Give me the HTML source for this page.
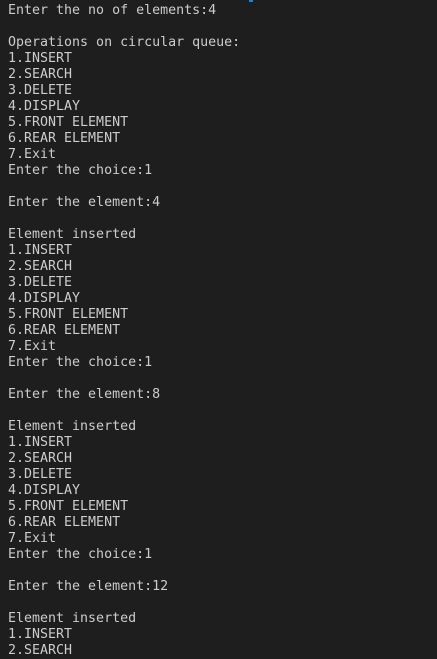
<!DOCTYPE html>
<html><head><style>
html,body{margin:0;padding:0;background:#1e1e1e;width:437px;height:659px;overflow:hidden}
pre{margin:0;position:absolute;left:8px;top:3px;font-family:"DejaVu Sans Mono","Liberation Mono",monospace;font-size:13.3px;line-height:16px;color:#cccccc}
.m{position:absolute;left:249px;top:0;width:4px;height:2px;background:#1a85d6}
</style></head><body>
<div class="m"></div>
<pre>Enter the no of elements:4

Operations on circular queue:
1.INSERT
2.SEARCH
3.DELETE
4.DISPLAY
5.FRONT ELEMENT
6.REAR ELEMENT
7.Exit
Enter the choice:1

Enter the element:4

Element inserted
1.INSERT
2.SEARCH
3.DELETE
4.DISPLAY
5.FRONT ELEMENT
6.REAR ELEMENT
7.Exit
Enter the choice:1

Enter the element:8

Element inserted
1.INSERT
2.SEARCH
3.DELETE
4.DISPLAY
5.FRONT ELEMENT
6.REAR ELEMENT
7.Exit
Enter the choice:1

Enter the element:12

Element inserted
1.INSERT
2.SEARCH</pre>
</body></html>
